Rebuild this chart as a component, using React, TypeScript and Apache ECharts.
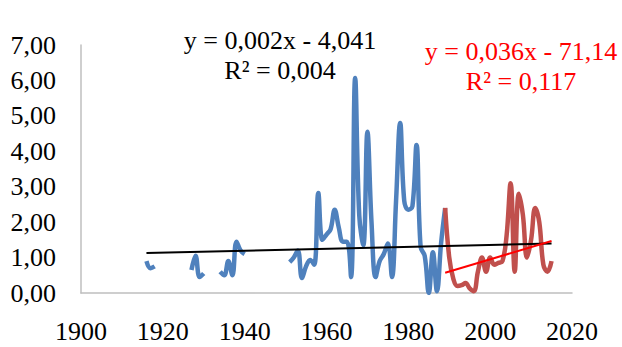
import React, { useEffect, useRef } from "react";
import * as echarts from "echarts";

// Annual values, first record (blue). null marks a gap between records.
const blueYears = [
  1916, 1917, 1918, 1922,
  1927, 1928, 1929, 1930, 1932,
  1934, 1935, 1936, 1937, 1938, 1939, 1940, 1945,
  1951, 1952, 1953, 1954, 1955, 1956, 1957, 1958, 1959, 1960,
  1961, 1962, 1963, 1964, 1965, 1966, 1967, 1968, 1969, 1970,
  1971, 1972, 1973, 1974, 1975, 1976, 1977, 1978, 1979, 1980,
  1981, 1982, 1983, 1984, 1985, 1986, 1987, 1988, 1989,
];
const blueValues = [
  0.9, 0.7, 0.75, null,
  0.65, 1.05, 0.45, 0.55, null,
  0.6, 0.5, 0.9, 0.5, 1.45, 1.2, 1.1, null,
  0.87, 1.0, 1.2, 0.42, 0.75, 0.93, 0.8, 2.82, 1.5, 1.65,
  1.8, 2.35, 1.85, 1.45, 1.45, 0.45, 6.07, 2.2, 1.35, 4.55,
  2.0, 0.45, 0.9, 1.1, 1.4, 0.45, 2.6, 4.8, 2.6, 2.35,
  2.45, 4.18, 1.3, 1.05, 0.0, 1.15, 0.05, 1.4, 2.4,
];

// Annual values, second record (red).
const redYears = [
  1989, 1990, 1991, 1992, 1993, 1994, 1995, 1996, 1997, 1998,
  1999, 2000, 2001, 2002, 2003, 2004, 2005, 2006, 2007, 2008,
  2009, 2010, 2011, 2012, 2013, 2014, 2015,
];
const redValues = [
  2.4, 1.0, 0.4, 0.2, 0.22, 0.28, 0.13, 0.05, 0.6, 1.0,
  0.6, 1.0, 0.8, 0.85, 0.9, 1.6, 3.1, 0.6, 2.8, 2.2,
  1.0, 1.5, 2.4, 2.0, 0.8, 0.6, 0.9,
];

// Linear trend lines (end points).
const blackTrendYears = [1916, 2015];
const blackTrendValues = [1.13, 1.4];
const redTrendYears = [1989, 2015];
const redTrendValues = [0.57, 1.47];

const blackEquation = ["y = 0,002x - 4,041", "R² = 0,004"];
const redEquation = ["y = 0,036x - 71,14", "R² = 0,117"];

const SERIF = '"Liberation Serif", serif';

const pairs = (xs: number[], ys: (number | null)[]) =>
  xs.map((x, i) => [x, ys[i] === null ? "-" : ys[i]]);

export default function App() {
  const ref = useRef<HTMLDivElement>(null);

  useEffect(() => {
    if (!ref.current) return;
    const chart = echarts.init(ref.current, undefined, { renderer: "svg" });
    const axisLine = { show: true, lineStyle: { color: "#BFBFBF", width: 1.5 } };
    const labelStyle = {
      color: "#000",
      fontFamily: SERIF,
      fontSize: 26,
      fontWeight: "normal",
      fontStyle: "normal",
      margin: 25,
    };
    chart.setOption({
      animation: false,
      backgroundColor: "#ffffff",
      textStyle: { fontFamily: SERIF },
      grid: { left: 81, right: 50, top: 45, bottom: 54, containLabel: false },
      xAxis: {
        type: "value",
        min: 1900,
        max: 2020,
        interval: 20,
        axisLine,
        axisTick: { show: false },
        splitLine: { show: false },
        axisLabel: { ...labelStyle, formatter: (v: number) => String(v) },
      },
      yAxis: {
        type: "value",
        min: 0,
        max: 7,
        interval: 1,
        axisLine,
        axisTick: { show: false },
        splitLine: { show: false },
        axisLabel: {
          ...labelStyle,
          formatter: (v: number) => v.toFixed(2).replace(".", ","),
        },
      },
      graphic: [
        {
          type: "text",
          x: 280,
          y: 55,
          style: {
            text: blackEquation.join("\n"),
            fill: "#000",
            fontFamily: SERIF,
            fontSize: 26,
            lineHeight: 30,
            align: "center",
            verticalAlign: "middle",
          },
        },
        {
          type: "text",
          x: 521,
          y: 66,
          style: {
            text: redEquation.join("\n"),
            fill: "#FF0000",
            fontFamily: SERIF,
            fontSize: 26,
            lineHeight: 30,
            align: "center",
            verticalAlign: "middle",
          },
        },
      ],
      series: [
        {
          type: "line",
          data: pairs(blueYears, blueValues),
          smooth: 0.4,
          showSymbol: false,
          connectNulls: false,
          lineStyle: { color: "#4F81BD", width: 4.5 },
          itemStyle: { color: "#4F81BD" },
        },
        {
          type: "line",
          data: pairs(redYears, redValues),
          smooth: 0.4,
          showSymbol: false,
          lineStyle: { color: "#C0504D", width: 4.5 },
          itemStyle: { color: "#C0504D" },
        },
        {
          type: "line",
          data: pairs(blackTrendYears, blackTrendValues),
          showSymbol: false,
          lineStyle: { color: "#000000", width: 2 },
        },
        {
          type: "line",
          data: pairs(redTrendYears, redTrendValues),
          showSymbol: false,
          lineStyle: { color: "#FF0000", width: 2 },
        },
      ],
    });
    return () => chart.dispose();
  }, []);

  return (
    <div
      ref={ref}
      style={{ position: "fixed", left: 0, top: 0, width: 622, height: 347 }}
    />
  );
}
